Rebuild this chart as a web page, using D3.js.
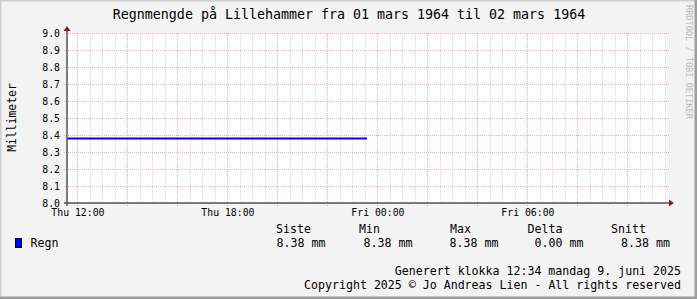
<!DOCTYPE html>
<html>
<head>
<meta charset="utf-8">
<script src="https://cdn.jsdelivr.net/npm/d3@7"></script>
<style>
  html, body { margin: 0; padding: 0; background: #f3f3f3; }
  svg text { font-family: "DejaVu Sans Mono", monospace; fill: #000; }
</style>
</head>
<body>
<div id="chart"></div>
<script>
// data
var regnTid = ["1964-02-27T11:35:00Z", "1964-02-27T23:35:00Z"];
var regnVerdi = [8.38, 8.38];
var tidRom = ["1964-02-27T11:35:00Z", "1964-02-28T11:35:00Z"];
var yTicks = [8.0, 8.1, 8.2, 8.3, 8.4, 8.5, 8.6, 8.7, 8.8, 8.9, 9.0];
var legendHeader = ["Siste", "Min", "Max", "Delta", "Snitt"];
var legendValues = ["8.38 mm", "8.38 mm", "8.38 mm", "0.00 mm", "8.38 mm"];

var W = 697, H = 299;
var plot = { left: 67, right: 667, top: 33, bottom: 203 };

var svg = d3.select('#chart').append('svg')
  .attr('width', W)
  .attr('height', H);

// background + 3d border
svg.append('rect').attr('x', 0).attr('y', 0).attr('width', W).attr('height', H).attr('fill', '#f3f3f3');
svg.append('path').attr('d', 'M0,' + H + ' L0,0 L' + W + ',0').attr('stroke', '#cfcfcf').attr('stroke-width', 3).attr('fill', 'none');
svg.append('path').attr('d', 'M0,' + (H - 1) + ' L' + (W - 1) + ',' + (H - 1) + ' L' + (W - 1) + ',0').attr('stroke', '#9e9e9e').attr('stroke-width', 3).attr('fill', 'none');

var x = d3.scaleUtc()
  .domain(tidRom.map(function (d) { return new Date(d); }))
  .range([plot.left, plot.right]);
var y = d3.scaleLinear().domain([8.0, 9.0]).range([plot.bottom, plot.top]);

svg.append('rect')
  .attr('x', plot.left).attr('y', plot.top)
  .attr('width', plot.right - plot.left).attr('height', plot.bottom - plot.top)
  .attr('fill', '#fff');

// minor vertical grid, every 30 min
var minor = x.ticks(d3.utcMinute.every(30));
svg.append('g').selectAll('line').data(minor).enter().append('line')
  .attr('x1', function (d) { return Math.round(x(d)) + 0.5; })
  .attr('x2', function (d) { return Math.round(x(d)) + 0.5; })
  .attr('y1', plot.top).attr('y2', plot.bottom)
  .attr('stroke', '#d2d2d2').attr('stroke-dasharray', '1,1');

// major vertical grid, every 2 h
var major = x.ticks(d3.utcHour.every(2));
svg.append('g').selectAll('line').data(major).enter().append('line')
  .attr('x1', function (d) { return Math.round(x(d)) + 0.5; })
  .attr('x2', function (d) { return Math.round(x(d)) + 0.5; })
  .attr('y1', plot.top).attr('y2', plot.bottom + 3)
  .attr('stroke', '#f7aaaa').attr('stroke-dasharray', '1,1');

// horizontal grid
svg.append('g').selectAll('line').data(yTicks).enter().append('line')
  .attr('x1', plot.left - 3).attr('x2', plot.right + 2)
  .attr('y1', function (d) { return Math.round(y(d)) + 0.5; })
  .attr('y2', function (d) { return Math.round(y(d)) + 0.5; })
  .attr('stroke', '#f7aaaa').attr('stroke-dasharray', '1,1');

// y tick labels
svg.append('g').selectAll('text').data(yTicks).enter().append('text')
  .attr('x', 60)
  .attr('y', function (d) { return y(d) + 3.5; })
  .attr('text-anchor', 'end')
  .style('font-size', '9.8px')
  .text(function (d) { return d3.format('.1f')(d); });

// x tick labels
var labelTicks = x.ticks(d3.utcHour.every(6));
svg.append('g').selectAll('text').data(labelTicks).enter().append('text')
  .attr('x', function (d) { return x(d) + 0.5; })
  .attr('y', 216)
  .attr('text-anchor', 'middle')
  .style('font-size', '9.8px')
  .text(function (d) { return d3.utcFormat('%a %H:%M')(d); });

// the data line
var line = d3.line()
  .x(function (d) { return x(new Date(d.t)); })
  .y(function (d) { return y(d.v); });
var pts = regnTid.map(function (t, i) { return { t: t, v: regnVerdi[i] }; });
svg.append('path').datum(pts)
  .attr('d', line)
  .attr('fill', 'none')
  .attr('stroke', '#0000ff')
  .attr('stroke-width', 2);

// axes
svg.append('line').attr('x1', plot.left - 3).attr('x2', plot.right + 2)
  .attr('y1', plot.bottom).attr('y2', plot.bottom).attr('stroke', '#555').attr('stroke-width', 1.5);
svg.append('line').attr('x1', plot.left).attr('x2', plot.left)
  .attr('y1', plot.bottom + 3).attr('y2', plot.top - 3).attr('stroke', '#555').attr('stroke-width', 1.5);
svg.append('path')
  .attr('d', 'M' + plot.left + ',' + (plot.top - 7) + ' l-3.5,5 l7,0 z')
  .attr('fill', '#8b1a1a');
svg.append('path')
  .attr('d', 'M' + (plot.right + 7) + ',' + plot.bottom + ' l-5,-3.5 l0,7 z')
  .attr('fill', '#8b1a1a');

// title
svg.append('text')
  .attr('x', 349).attr('y', 18.5)
  .attr('text-anchor', 'middle')
  .style('font-size', '13.3px')
  .text('Regnmengde på Lillehammer fra 01 mars 1964 til 02 mars 1964');

// y axis title
svg.append('text')
  .attr('transform', 'translate(15.5,117.5) rotate(-90)')
  .attr('text-anchor', 'middle')
  .style('font-size', '11.4px')
  .text('Millimeter');

// watermark
svg.append('text')
  .attr('transform', 'translate(685.5,5) rotate(90)')
  .attr('text-anchor', 'start')
  .style('font-size', '8.6px')
  .style('fill', '#bcbcbc')
  .text('RRDTOOL / TOBI OETIKER');

// legend
var colX = [276, 359, 450, 527.5, 611];
var valX = [276.5, 363.5, 449.5, 534.5, 621];
svg.append('g').selectAll('text').data(legendHeader).enter().append('text')
  .attr('x', function (d, i) { return colX[i]; })
  .attr('y', 232.5)
  .style('font-size', '11.6px')
  .text(function (d) { return d; });
svg.append('g').selectAll('text').data(legendValues).enter().append('text')
  .attr('x', function (d, i) { return valX[i]; })
  .attr('y', 246.5)
  .style('font-size', '11.6px')
  .text(function (d) { return d; });

svg.append('rect').attr('x', 15.5).attr('y', 238.5).attr('width', 6).attr('height', 9)
  .attr('fill', '#0000ff').attr('stroke', '#000').attr('stroke-width', 1);
svg.append('text').attr('x', 30.5).attr('y', 246.5).style('font-size', '11.6px').text('Regn');

svg.append('text').attr('x', 681).attr('y', 275).attr('text-anchor', 'end')
  .style('font-size', '11.6px').text('Generert klokka 12:34 mandag 9. juni 2025');
svg.append('text').attr('x', 681).attr('y', 289).attr('text-anchor', 'end')
  .style('font-size', '11.6px').text('Copyright 2025 © Jo Andreas Lien - All rights reserved');
</script>
</body>
</html>
